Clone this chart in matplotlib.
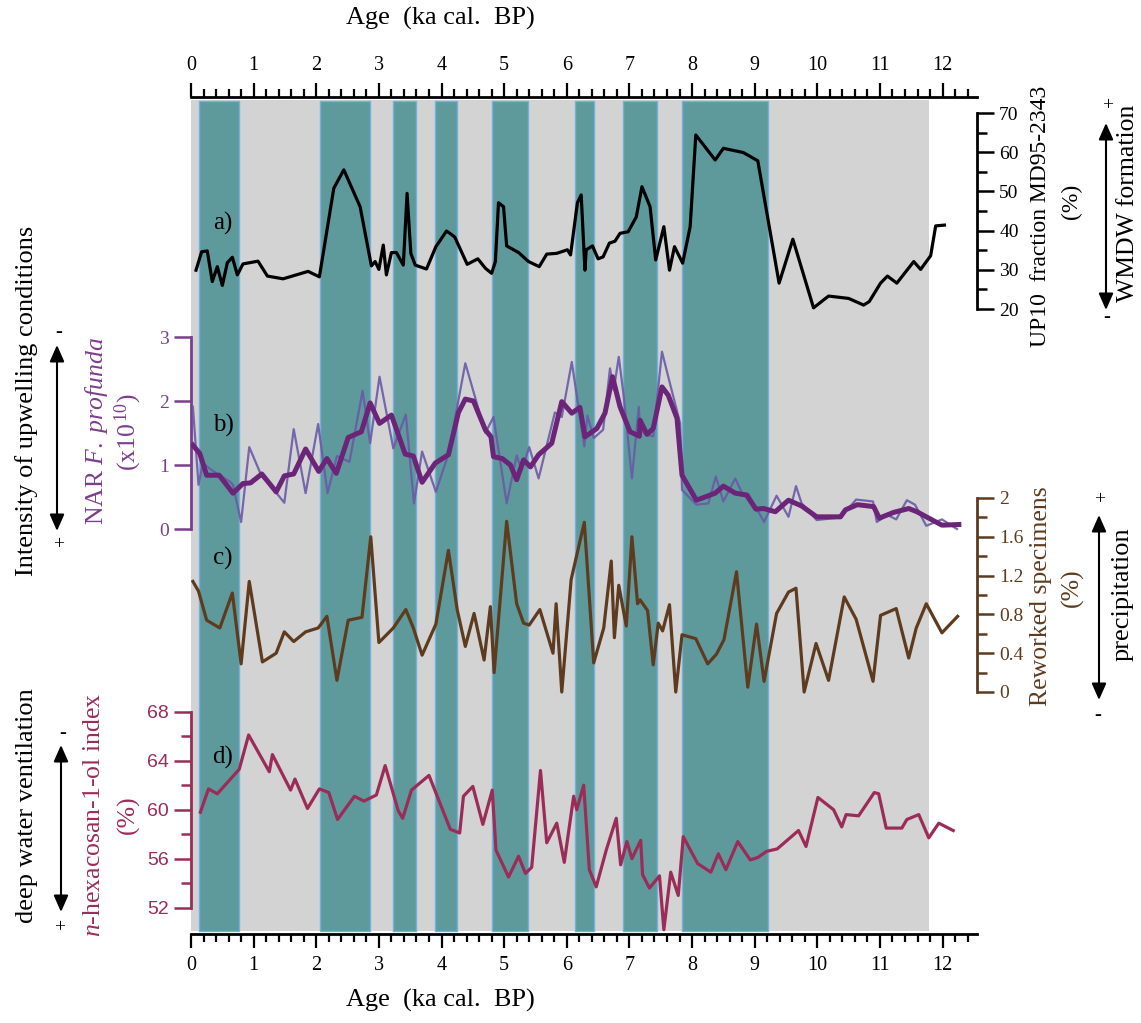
import matplotlib
matplotlib.use('Agg')
import matplotlib.pyplot as plt
from matplotlib.ticker import MultipleLocator, FuncFormatter

plt.rcParams['font.family'] = 'Liberation Serif'
plt.rcParams['mathtext.fontset'] = 'custom'
plt.rcParams['mathtext.rm'] = 'Liberation Serif'
plt.rcParams['mathtext.it'] = 'Liberation Serif:italic'

# --- data (ages in ka cal. BP) ---
band_start = [0.13, 2.06, 3.23, 3.90, 4.80, 6.13, 6.89, 7.84]
band_end = [0.77, 2.86, 3.59, 4.25, 5.38, 6.43, 7.44, 9.22]
grey_end = 11.78

# a) UP10 fraction MD95-2343 (%)
a_age = [0.08, 0.17, 0.26, 0.34, 0.42, 0.50, 0.58, 0.66, 0.74, 0.83, 1.07, 1.22, 1.47, 1.87, 2.05,
         2.28, 2.44, 2.70, 2.88, 2.94, 3.00, 3.07, 3.12, 3.20, 3.28, 3.39, 3.45, 3.51, 3.58, 3.76,
         3.91, 4.08, 4.21, 4.41, 4.58, 4.70, 4.80, 4.86, 4.91, 4.99, 5.04, 5.23, 5.39, 5.56, 5.68,
         5.84, 6.01, 6.06, 6.17, 6.23, 6.29, 6.31, 6.41, 6.50, 6.58, 6.68, 6.77, 6.85, 6.98, 7.11,
         7.20, 7.33, 7.42, 7.55, 7.64, 7.72, 7.85, 7.97, 8.06, 8.37, 8.50, 8.82, 9.05, 9.39, 9.61,
         9.94, 10.18, 10.50, 10.74, 10.83, 11.01, 11.12, 11.27, 11.54, 11.65, 11.81, 11.89, 12.03]
a_val = [29.9, 34.6, 34.8, 27.0, 30.8, 26.0, 31.8, 33.2, 28.7, 31.5, 32.2, 28.4, 27.7, 29.6, 28.2,
         50.8, 55.5, 46.1, 31.0, 32.1, 30.1, 36.3, 28.7, 34.4, 34.4, 31.2, 49.5, 34.2, 31.2, 30.2,
         35.9, 39.9, 38.4, 31.4, 32.8, 30.4, 29.1, 32.1, 47.1, 46.1, 36.1, 34.4, 32.1, 30.8, 34.0,
         34.2, 35.1, 33.8, 47.1, 49.1, 29.9, 35.1, 36.1, 32.8, 33.3, 36.8, 37.3, 39.3, 39.7, 43.5,
         51.2, 46.1, 32.5, 41.0, 29.9, 35.9, 31.7, 41.0, 64.4, 58.0, 61.0, 59.9, 57.8, 26.6, 37.8,
         20.3, 23.3, 22.7, 21.0, 21.9, 26.6, 28.4, 26.6, 32.1, 30.1, 33.6, 41.2, 41.4]

# b) NAR F. profunda, smoothed (thick) and raw (thin)
bt_age = [0.03, 0.14, 0.25, 0.45, 0.67, 0.83, 0.95, 1.13, 1.36, 1.49, 1.64, 1.83, 2.04, 2.17, 2.32,
          2.51, 2.72, 2.86, 3.01, 3.20, 3.42, 3.55, 3.69, 3.90, 4.11, 4.27, 4.38, 4.51, 4.70, 4.79,
          4.83, 4.97, 5.10, 5.20, 5.31, 5.42, 5.55, 5.76, 5.92, 6.08, 6.21, 6.29, 6.48, 6.61, 6.73,
          6.85, 7.01, 7.16, 7.17, 7.28, 7.38, 7.52, 7.62, 7.76, 7.84, 8.07, 8.37, 8.50, 8.69, 8.87,
          9.02, 9.14, 9.33, 9.54, 9.75, 9.99, 10.37, 10.45, 10.64, 10.90, 10.99, 11.22, 11.46, 11.59,
          11.78, 11.99, 12.26]
bt_val = [1.31, 1.18, 0.84, 0.84, 0.56, 0.71, 0.72, 0.86, 0.58, 0.83, 0.86, 1.25, 0.90, 1.10, 0.87,
          1.43, 1.52, 1.97, 1.65, 1.78, 1.17, 1.14, 0.73, 1.03, 1.16, 1.82, 2.03, 2.00, 1.55, 1.44,
          1.13, 1.10, 1.00, 0.77, 1.08, 0.97, 1.16, 1.34, 1.99, 1.81, 1.90, 1.44, 1.57, 1.81, 2.38,
          1.91, 1.52, 1.45, 1.70, 1.48, 1.57, 2.22, 2.09, 1.73, 0.84, 0.45, 0.56, 0.67, 0.56, 0.53,
          0.31, 0.32, 0.27, 0.45, 0.36, 0.19, 0.19, 0.30, 0.38, 0.35, 0.17, 0.26, 0.32, 0.27,
          0.17, 0.06, 0.07]
bn_age = [0.03, 0.12, 0.19, 0.33, 0.62, 0.67, 0.80, 0.93, 1.13, 1.26, 1.49, 1.64, 1.83, 2.03, 2.18,
          2.33, 2.53, 2.74, 2.86, 3.01, 3.23, 3.43, 3.56, 3.69, 3.91, 4.11, 4.38, 4.70, 4.83, 5.04,
          5.20, 5.28, 5.40, 5.55, 5.81, 5.92, 6.08, 6.28, 6.33, 6.43, 6.58, 6.69, 6.75, 6.83, 6.91,
          7.04, 7.15, 7.17, 7.28, 7.38, 7.52, 7.62, 7.81, 7.84, 8.07, 8.26, 8.38, 8.50, 8.69, 8.80,
          8.90, 9.03, 9.15, 9.35, 9.54, 9.66, 9.75, 9.99, 10.37, 10.62, 10.89, 10.95, 11.12, 11.26,
          11.43, 11.56, 11.74, 11.99, 12.23]
bn_val = [1.91, 0.69, 1.03, 0.92, 0.74, 0.69, 0.11, 1.28, 0.82, 0.69, 0.41, 1.56, 0.56, 1.64, 0.56,
          1.14, 1.05, 2.16, 1.34, 2.38, 1.26, 1.79, 0.40, 1.21, 0.58, 1.17, 2.59, 1.50, 1.75, 0.40,
          1.15, 0.92, 1.28, 0.79, 1.82, 1.75, 2.61, 1.29, 1.77, 1.42, 1.55, 2.51, 2.17, 2.69, 2.07,
          0.79, 1.91, 1.55, 1.47, 1.45, 2.77, 2.38, 1.65, 0.61, 0.38, 0.40, 0.82, 0.43, 0.79, 0.56,
          0.55, 0.32, 0.11, 0.52, 0.19, 0.67, 0.40, 0.14, 0.18, 0.46, 0.43, 0.11, 0.22, 0.15,
          0.45, 0.38, 0.05, 0.15, 0.0]

# c) Reworked specimens (%)
c_age = [0.03, 0.12, 0.25, 0.46, 0.66, 0.80, 0.93, 1.14, 1.36, 1.49, 1.64, 1.83, 2.03, 2.17, 2.33,
         2.51, 2.73, 2.87, 3.00, 3.23, 3.43, 3.55, 3.69, 3.91, 4.11, 4.25, 4.38, 4.52, 4.68, 4.78,
         4.84, 5.04, 5.20, 5.31, 5.40, 5.57, 5.78, 5.83, 5.92, 6.07, 6.28, 6.43, 6.59, 6.71, 6.76,
         6.83, 6.95, 7.04, 7.13, 7.17, 7.29, 7.38, 7.46, 7.53, 7.64, 7.74, 7.84, 8.06, 8.25, 8.39,
         8.51, 8.71, 8.89, 9.03, 9.15, 9.35, 9.54, 9.66, 9.79, 9.98, 10.18, 10.43, 10.62, 10.89,
         11.01, 11.26, 11.46, 11.58, 11.74, 11.99, 12.24]
c_val = [1.14, 1.04, 0.74, 0.66, 1.02, 0.29, 1.14, 0.31, 0.40, 0.62, 0.52, 0.62, 0.66, 0.78, 0.12,
         0.74, 0.77, 1.60, 0.51, 0.66, 0.85, 0.66, 0.38, 0.70, 1.46, 0.85, 0.47, 0.81, 0.33, 0.88,
         0.20, 1.76, 0.91, 0.71, 0.69, 0.85, 0.40, 0.91, 0.00, 1.16, 1.75, 0.30, 0.66, 1.35, 0.56,
         1.10, 0.68, 1.60, 0.91, 0.95, 0.84, 0.28, 0.71, 0.63, 0.90, 0.00, 0.59, 0.55, 0.29, 0.39,
         0.54, 1.24, 0.05, 0.70, 0.11, 0.81, 1.03, 1.07, 0.00, 0.50, 0.12, 0.98, 0.75, 0.11,
         0.79, 0.86, 0.35, 0.66, 0.91, 0.61, 0.78]

# d) n-hexacosan-1-ol index (%)
d_age = [0.15, 0.28, 0.42, 0.77, 0.92, 1.25, 1.30, 1.59, 1.66, 1.86, 2.05, 2.20, 2.34, 2.61, 2.76,
         2.96, 3.10, 3.31, 3.38, 3.52, 3.80, 4.14, 4.29, 4.35, 4.50, 4.66, 4.81, 4.87, 5.07, 5.23,
         5.34, 5.44, 5.58, 5.68, 5.84, 5.96, 6.11, 6.16, 6.27, 6.36, 6.47, 6.63, 6.79, 6.86, 6.96,
         7.04, 7.18, 7.21, 7.32, 7.48, 7.55, 7.66, 7.78, 7.86, 8.09, 8.30, 8.42, 8.54, 8.73, 8.93,
         9.05, 9.19, 9.36, 9.70, 9.82, 10.01, 10.26, 10.39, 10.46, 10.66, 10.91, 10.98, 11.10, 11.35,
         11.43, 11.62, 11.78, 11.94, 12.17]
d_val = [59.8, 61.7, 61.3, 63.3, 66.1, 63.1, 64.5, 61.6, 62.5, 60.1, 61.7, 61.4, 59.2, 61.1, 60.7,
         61.2, 63.6, 59.9, 59.3, 61.6, 62.8, 58.4, 58.1, 61.1, 61.9, 58.8, 61.6, 56.7, 54.5, 56.2,
         54.8, 55.3, 63.2, 57.3, 58.9, 55.7, 61.1, 60.0, 62.0, 55.1, 53.7, 56.7, 59.3, 55.5, 57.4,
         56.0, 57.5, 54.7, 53.6, 54.6, 50.2, 54.9, 53.0, 57.8, 55.6, 54.9, 56.4, 55.1, 57.4, 55.9,
         56.1, 56.6, 56.8, 58.3, 57.0, 61.0, 60.0, 58.6, 59.6, 59.5, 61.4, 61.3, 58.5, 58.5,
         59.2, 59.6, 57.7, 58.9, 58.3]

# --- figure / layout (pixel based) ---
W, H = 1141, 1023
fig = plt.figure(figsize=(W / 100, H / 100), dpi=100)
X0, X1, YT, YB = 191, 977, 97, 934
rect = [X0 / W, 1 - YB / H, (X1 - X0) / W, (YB - YT) / H]
XMAX = 12.55

col_a = 'black'
col_b = '#6b2478'
col_bt = '#6a5aa6'
col_b_ax = '#7a3f8c'
col_c = '#5e3b1e'
col_d = '#9b2c58'

ax = fig.add_axes(rect)
ax.set_xlim(0, XMAX)
ax.set_ylim(0, 1)
ax.axvspan(0, grey_end, ymin=0.003, ymax=0.997, color='#d3d3d3', lw=0, zorder=0)
for s, e in zip(band_start, band_end):
    ax.axvspan(s, e, ymin=0.003, ymax=0.995, facecolor='#5e9a9c', edgecolor='#74b2de',
               lw=1, zorder=1)
for side in ['left', 'right']:
    ax.spines[side].set_visible(False)
for side in ['top', 'bottom']:
    ax.spines[side].set_linewidth(2)
ax.set_yticks([])
ax.xaxis.set_major_locator(MultipleLocator(1))
ax.xaxis.set_minor_locator(MultipleLocator(0.2))
ax.tick_params(axis='x', which='both', top=True, labeltop=True, bottom=True, labelbottom=True,
               direction='out', labelsize=14.5, width=1.6)
ax.tick_params(axis='x', which='major', length=10, pad=6)
ax.tick_params(axis='x', which='minor', length=5.5)


def overlay(v0, y0, v1, y1, side, color, lo, hi):
    a = fig.add_axes(rect)
    a.patch.set_visible(False)
    a.set_xlim(0, XMAX)
    per_px = (v1 - v0) / (y0 - y1)
    a.set_ylim(v0 - (YB - y0) * per_px, v0 + (y0 - YT) * per_px)
    for sp in a.spines.values():
        sp.set_visible(False)
    a.spines[side].set_visible(True)
    a.spines[side].set_bounds(lo, hi)
    a.spines[side].set_color(color)
    a.spines[side].set_linewidth(2)
    a.set_xticks([])
    a.yaxis.set_ticks_position(side)
    a.tick_params(axis='y', which='both', colors=color, labelcolor=color, labelsize=14, width=1.8)
    a.tick_params(axis='y', which='major', length=12, pad=4)
    a.tick_params(axis='y', which='minor', length=7)
    return a


fmt = FuncFormatter(lambda v, p: '%g' % round(v, 2))

ax_a = overlay(20, 309, 70, 113, 'right', col_a, 20, 70)
ax_a.set_yticks([20, 30, 40, 50, 60, 70])
ax_a.set_yticks([25, 35, 45, 55, 65], minor=True)
ax_a.plot(a_age, a_val, color=col_a, lw=2.3, zorder=5)

ax_b = overlay(0, 529, 3, 337, 'left', col_b_ax, 0, 3)
ax_b.set_yticks([0, 1, 2, 3])
ax_b.plot(bn_age, bn_val, color=col_bt, lw=1.6, alpha=0.9, zorder=5)
ax_b.plot(bt_age, bt_val, color=col_b, lw=3.6, zorder=6)

ax_c = overlay(0, 692, 2, 498, 'right', col_c, 0, 2)
ax_c.set_yticks([0, 0.4, 0.8, 1.2, 1.6, 2.0])
ax_c.set_yticks([0.2, 0.6, 1.0, 1.4, 1.8], minor=True)
ax_c.yaxis.set_major_formatter(fmt)
ax_c.plot(c_age, c_val, color=col_c, lw=2.3, zorder=5)

ax_d = overlay(52, 907.7, 64, 760.7, 'left', col_d, 52, 68)
ax_d.set_yticks([52, 56, 60, 64, 68])
ax_d.set_yticks([54, 58, 62, 66], minor=True)
for lab in ax_d.get_yticklabels():
    lab.set_family('Liberation Sans')
    lab.set_fontsize(14)
ax_d.plot(d_age, d_val, color=col_d, lw=2.3, zorder=5)


# --- texts and arrows in pixel coordinates ---
def ftext(x, y, s, **kw):
    kw.setdefault('ha', 'center')
    kw.setdefault('va', 'center')
    kw.setdefault('fontsize', 17)
    fig.text(x / W, 1 - y / H, s, **kw)


def farrow(x, y_top, y_bot):
    ax.annotate('', xy=(x / W, 1 - y_top / H), xytext=(x / W, 1 - y_bot / H),
                xycoords='figure fraction', textcoords='figure fraction',
                arrowprops=dict(arrowstyle='<|-|>,head_length=0.5,head_width=0.22',
                                color='black', lw=1.5, mutation_scale=20, shrinkA=0, shrinkB=0))


ftext(440, 18, 'Age  (ka cal.  BP)', fontsize=19)
ftext(440, 1000, 'Age  (ka cal.  BP)', fontsize=19)

for lab, y in zip(['a)', 'b)', 'c)', 'd)'], [223, 425, 558, 757]):
    ftext(223, y, lab, fontsize=18)

# a) right side
ftext(1040, 216, 'UP10  fraction MD95-2343', rotation=90, fontsize=17)
ftext(1071, 201, '(%)', rotation=90, fontsize=17)
farrow(1106, 123, 310)
ftext(1108, 106, '+', fontsize=14)
ftext(1107, 318, '-', fontsize=15)
ftext(1128, 203, 'WMDW formation', rotation=90, fontsize=18.5)

# b) left side
ftext(27, 401, 'Intensity of upwelling conditions', rotation=90, fontsize=19)
farrow(57, 345, 531)
ftext(59, 333, '-', fontsize=15)
ftext(59, 545, '+', fontsize=14)
ftext(97, 431, r'NAR $\mathit{F.\ profunda}$', rotation=90, color=col_b_ax, fontsize=18.5)
ftext(128, 432, r'(x10$^{\,10}$)', rotation=90, color=col_b_ax, fontsize=18.5)

# c) right side
ftext(1041, 596, 'Reworked specimens', rotation=90, color=col_c, fontsize=18.5)
ftext(1072, 588, '(%)', rotation=90, color=col_c, fontsize=18.5)
farrow(1099, 515, 700)
ftext(1100, 500, '+', fontsize=14)
ftext(1098, 715, '-', fontsize=15)
ftext(1123, 594, 'precipitation', rotation=90, fontsize=19)

# d) left side
ftext(27, 806, 'deep water ventilation', rotation=90, fontsize=19)
farrow(61, 745, 912)
ftext(63, 734, '-', fontsize=15)
ftext(60, 928, '+', fontsize=14)
ftext(94, 815, r'$\mathit{n}$-hexacosan-1-ol index', rotation=90, color=col_d, fontsize=18.5)
ftext(128, 815, '(%)', rotation=90, color=col_d, fontsize=18.5)

fig.savefig('out.png', dpi=100)
